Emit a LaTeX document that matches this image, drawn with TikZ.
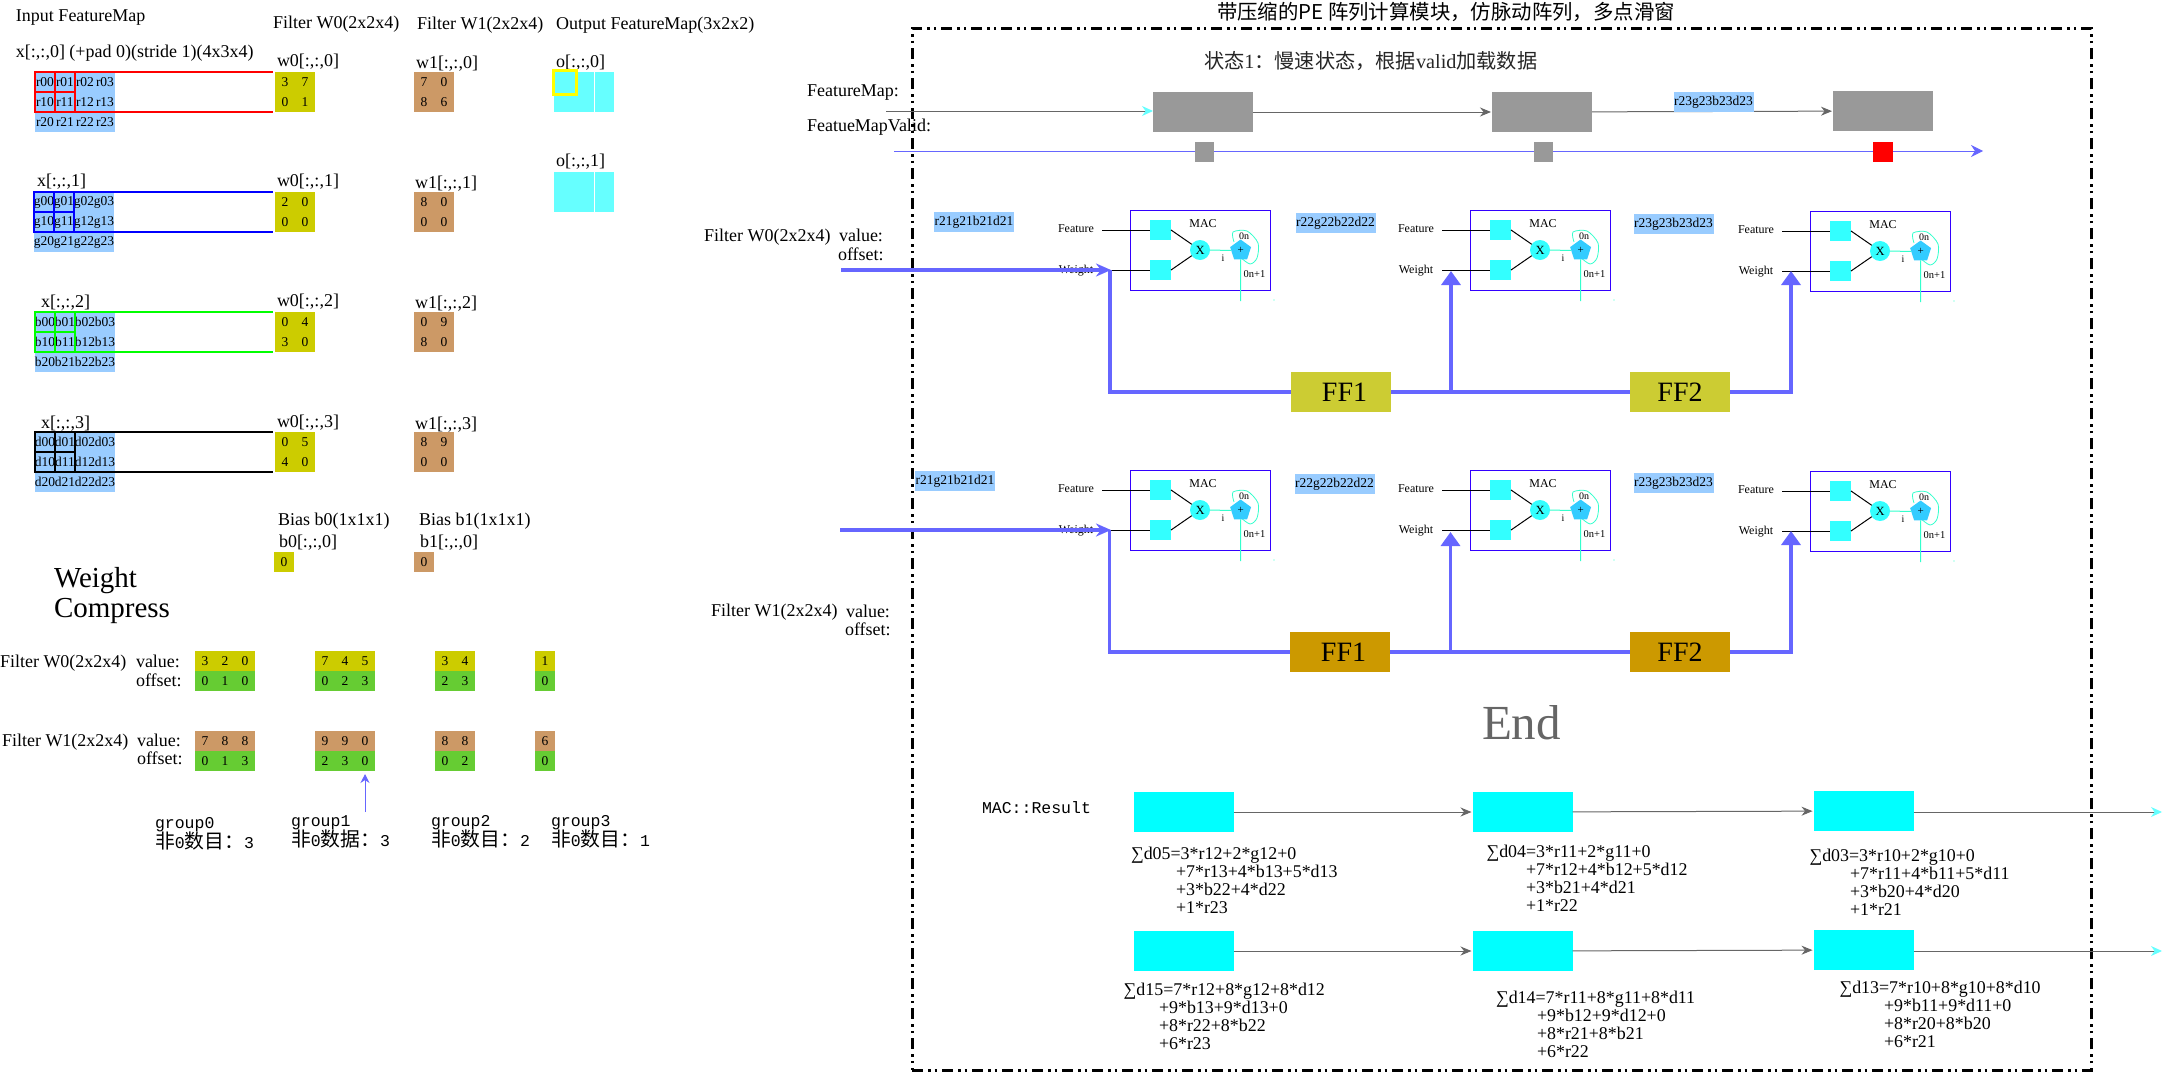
\documentclass[tikz,border=0pt]{standalone}
\usepackage{fontspec}
\setmainfont{Liberation Serif}
\setmonofont{Liberation Mono}
\newfontfamily\cjk{Noto Sans CJK SC}
\usetikzlibrary{arrows.meta}
\usetikzlibrary{shapes.geometric}
\definecolor{cellblue}{HTML}{99CCFF}
\definecolor{cellyellow}{HTML}{CCCC00}
\definecolor{cellbrown}{HTML}{CC9966}
\definecolor{cellgreen}{HTML}{66CC33}
\definecolor{outcyan}{HTML}{66FFFF}
\definecolor{rescyan}{HTML}{00FFFF}
\definecolor{macsqcyan}{HTML}{33FFFF}
\definecolor{macaddblue}{HTML}{33CCFF}
\definecolor{winyellow}{HTML}{FFFF00}
\definecolor{flowblue}{HTML}{6666FF}
\definecolor{macblue}{HTML}{3300FF}
\definecolor{macturq}{HTML}{33FFCC}
\definecolor{ffyellow}{HTML}{CCCC33}
\definecolor{fforange}{HTML}{CC9900}
\definecolor{boxgray}{HTML}{999999}
\definecolor{linegray}{HTML}{666666}
\newcommand{\px}[1]{\fontsize{#1}{#1}\selectfont}
\newcommand{\cjkm}[1]{{\cjk\px{19.8}#1}}
% one row of cells: name, style, x and y of first cell, entries
\newcommand{\cellrow}[5]{
  \foreach \v [count=\i] in {#5}
    \node[#2] (#1\i) at ({#3+20*(\i-1)},#4) {\v};
}
% sliding window over a feature map
\newcommand{\window}[3]{
  \foreach \c in {a1,a2,b1,b2}
    \draw[#2] (#1\c.north west) rectangle (#1\c.south east);
  \draw[#2,line width=2,shorten >=2pt] (#1a3.north west) -- (#3a1.north west);
  \draw[#2,line width=2,shorten >=2pt] (#1b3.south west) -- (#3b1.south west);
}
% one MAC unit: name, x and y of its top left corner
\newcommand{\macunit}[3]{
  \begin{scope}[shift={(#2,#3)}]
    \node[macbox] (#1) at (70,40) {};
    \node[macsq] (#1f) at (30.5,20) {};
    \node[macsq] (#1w) at (30.5,60) {};
    \node[macmul] (#1x) at (70,40) {X};
    \coordinate (#1fin) at (-28,20);
    \coordinate (#1win) at (-28,60);
    \coordinate (#1out) at (110.6,91);
    \draw[macwire] (#1fin) -- (#1f);
    \draw[macwire] (#1win) -- (#1w);
    \draw[macwire] (#1f.east) -- (#1x);
    \draw[macwire] (#1w.east) -- (#1x);
    \draw[macloop] plot[smooth] coordinates {(104,32) (103,22) (117,21) (128,33) (127,48) (120,54) (110,47)};
    \node[macadd] (#1a) at (110.6,40.5) {+};
    \draw[macloop,line width=1] (#1x) -- (#1a);
    \draw[macloop,line width=1] (#1a) -- (#1out);
    \fill[macturq] (144,90) circle (.6);
    \node[mactxt] (#1m) at (73,14) {MAC};
    \node[mactxt,font=\px{10}] (#1on) at (114,26) {0n};
    \node[mactxt,font=\px{10}] (#1i) at (93,48) {i};
    \node[mactxt,font=\px{10.5}] (#1n) at (124.5,64) {0n+1};
    \node[mactxt] (#1ft) at (-54,18.5) {Feature};
    \node[mactxt] (#1wt) at (-54,60.5) {Weight};
  \end{scope}
}
% formula under a result box
\newcommand{\sumblock}[8]{
  \node[sumtxt] (#1a) at (#2,#4) {∑#5};
  \node[sumtxt] (#1b) at (#3,#4+18) {#6};
  \node[sumtxt] (#1c) at (#3,#4+36) {#7};
  \node[sumtxt] (#1d) at (#3,#4+54) {#8};
}

\begin{document}
\begin{tikzpicture}[
  x=1pt, y=-1pt,
  every node/.style={inner sep=0pt, outer sep=0pt},
  lbl/.style={anchor=west, yshift=-1.5pt, font=\px{18}, text height=12pt, text depth=4pt},
  sumtxt/.style={anchor=west, yshift=-.7pt, font=\px{17.9}, text height=12pt, text depth=4pt},
  mono/.style={anchor=west, yshift=-2pt, font=\ttfamily\px{16.5}, text height=12pt, text depth=4pt},
  gridcell/.style={fill=cellblue, minimum width=20pt, minimum height=20pt, font=\px{13.5}},
  wzero/.style={gridcell, fill=cellyellow},
  wone/.style={gridcell, fill=cellbrown},
  woff/.style={gridcell, fill=cellgreen},
  outcell/.style={fill=outcyan, minimum height=40pt},
  winred/.style={draw=red, line width=1.5},
  winblue/.style={draw=blue, line width=1.5},
  wingreen/.style={draw=green, line width=1.5},
  winblack/.style={draw=black, line width=1.5},
  tagcell/.style={fill=cellblue, minimum width=80pt, minimum height=20pt, font=\px{13.5}},
  grayblock/.style={fill=boxgray, minimum width=100pt, minimum height=40pt},
  tick/.style={fill=boxgray, minimum width=19pt, minimum height=20pt},
  resblock/.style={fill=rescyan, minimum width=100pt, minimum height=40pt},
  ffbox/.style={minimum width=100pt, minimum height=40pt, font=\px{28}},
  macbox/.style={draw=macblue, line width=1, minimum width=140pt, minimum height=80pt},
  macsq/.style={fill=macsqcyan, minimum width=21pt, minimum height=20pt},
  macmul/.style={circle, fill=macsqcyan, minimum size=20pt, font=\px{12.5}},
  macadd/.style={regular polygon, regular polygon sides=5, fill=macaddblue, minimum size=22pt, font=\px{11}},
  mactxt/.style={font=\px{12}},
  macwire/.style={draw=black, line width=1},
  macloop/.style={draw=macturq, line width=.8},
  flow/.style={draw=flowblue, line width=3.4},
  flowin/.style={flow, -{Stealth[length=15pt,width=13pt]}},
  flowup/.style={flow, -{Triangle[length=14pt,width=19pt]}},
  gline/.style={draw=linegray, line width=1, -{Stealth[length=11pt,width=9pt]}, shorten >=1pt},
  gcyan/.style={draw=linegray, line width=1, -{Stealth[length=11pt,width=10pt,color=outcyan]}},
  pemodule/.style={draw=black, line width=3, dash pattern=on 11pt off 5pt on 2.5pt off 4pt on 2.5pt off 5pt, minimum width=1179pt, minimum height=1042pt}
]
\useasboundingbox (0,0) rectangle (2163,1073);

% left part, feature maps and filters
\node[lbl] (inmap) at (16,16) {Input FeatureMap};
\node[lbl] (filt0) at (273,23) {Filter W0(2x2x4)};
\node[lbl] (filt1) at (417,24) {Filter W1(2x2x4)};
\node[lbl] (outmap) at (556,24) {Output FeatureMap(3x2x2)};

\node[lbl] (xa) at (16,52) {x[:,:,0] (+pad 0)(stride 1)(4x3x4)};
\node[lbl] (xb) at (37,181) {x[:,:,1]};
\node[lbl] (xc) at (41,302) {x[:,:,2]};
\node[lbl] (xd) at (41,423) {x[:,:,3]};
\node[lbl] (wza) at (277,61) {w0[:,:,0]};
\node[lbl] (wzb) at (277,181) {w0[:,:,1]};
\node[lbl] (wzc) at (277,301) {w0[:,:,2]};
\node[lbl] (wzd) at (277,422) {w0[:,:,3]};
\node[lbl] (woa) at (416,63) {w1[:,:,0]};
\node[lbl] (wob) at (415,183) {w1[:,:,1]};
\node[lbl] (woc) at (415,303) {w1[:,:,2]};
\node[lbl] (wod) at (415,424) {w1[:,:,3]};
\node[lbl] (oa) at (556,62) {o[:,:,0]};
\node[lbl] (ob) at (556,161) {o[:,:,1]};

\cellrow{ra}{gridcell}{45}{82}{r00,r01,r02,r03}
\cellrow{rb}{gridcell}{45}{102}{r10,r11,r12,r13}
\cellrow{rc}{gridcell}{45}{122}{r20,r21,r22,r23}
\cellrow{ga}{gridcell}{44}{202}{g00,g01,g02,g03}
\cellrow{gb}{gridcell}{44}{222}{g10,g11,g12,g13}
\cellrow{gc}{gridcell}{44}{242}{g20,g21,g22,g23}
\cellrow{ba}{gridcell}{45}{322}{b00,b01,b02,b03}
\cellrow{bb}{gridcell}{45}{342}{b10,b11,b12,b13}
\cellrow{bc}{gridcell}{45}{362}{b20,b21,b22,b23}
\cellrow{da}{gridcell}{45}{442}{d00,d01,d02,d03}
\cellrow{db}{gridcell}{45}{462}{d10,d11,d12,d13}
\cellrow{dc}{gridcell}{45}{482}{d20,d21,d22,d23}

\cellrow{kza}{wzero}{285}{82}{3,7}
\cellrow{kzb}{wzero}{285}{102}{0,1}
\cellrow{kya}{wzero}{285}{202}{2,0}
\cellrow{kyb}{wzero}{285}{222}{0,0}
\cellrow{kxa}{wzero}{285}{322}{0,4}
\cellrow{kxb}{wzero}{285}{342}{3,0}
\cellrow{kwa}{wzero}{285}{442}{0,5}
\cellrow{kwb}{wzero}{285}{462}{4,0}
\cellrow{joa}{wone}{424}{82}{7,0}
\cellrow{job}{wone}{424}{102}{8,6}
\cellrow{jpa}{wone}{424}{202}{8,0}
\cellrow{jpb}{wone}{424}{222}{0,0}
\cellrow{jqa}{wone}{424}{322}{0,9}
\cellrow{jqb}{wone}{424}{342}{8,0}
\cellrow{jra}{wone}{424}{442}{8,9}
\cellrow{jrb}{wone}{424}{462}{0,0}

\window{r}{winred}{kz}
\window{g}{winblue}{ky}
\window{b}{wingreen}{kx}
\window{d}{winblack}{kw}

\node[outcell,minimum width=40pt] (oaa) at (574,92) {};
\node[outcell,minimum width=19pt] (oab) at (604.5,92) {};
\node[outcell,minimum width=40pt] (oba) at (574,192) {};
\node[outcell,minimum width=19pt] (obb) at (604.5,192) {};
\node[draw=winyellow,line width=3,minimum width=23pt,minimum height=23pt] (oawin) at (565,82.5) {};

% bias and compressed weights
\node[lbl] (bz) at (278,520) {Bias b0(1x1x1)};
\node[lbl] (bo) at (419,520) {Bias b1(1x1x1)};
\node[lbl] (bzt) at (279,542) {b0[:,:,0]};
\node[lbl] (bot) at (420,542) {b1[:,:,0]};
\cellrow{bzv}{wzero}{284}{562}{0}
\cellrow{bov}{wone}{424}{562}{0}
\node[anchor=west,font=\px{29}] (wcomp) at (54,581) {Weight};
\node[anchor=west,font=\px{29}] (wcompb) at (54,611) {Compress};

\node[lbl] (czf) at (0,662) {Filter W0(2x2x4)};
\node[lbl] (czv) at (136,662) {value:};
\node[lbl] (czo) at (136,681) {offset:};
\node[lbl] (cof) at (2,741) {Filter W1(2x2x4)};
\node[lbl] (cov) at (137,741) {value:};
\node[lbl] (coo) at (137,759) {offset:};

\cellrow{zva}{wzero}{205}{661}{3,2,0}
\cellrow{zoa}{woff}{205}{681}{0,1,0}
\cellrow{zvb}{wzero}{325}{661}{7,4,5}
\cellrow{zob}{woff}{325}{681}{0,2,3}
\cellrow{zvc}{wzero}{445}{661}{3,4}
\cellrow{zoc}{woff}{445}{681}{2,3}
\cellrow{zvd}{wzero}{545}{661}{1}
\cellrow{zod}{woff}{545}{681}{0}
\cellrow{ova}{wone}{205}{741}{7,8,8}
\cellrow{ooa}{woff}{205}{761}{0,1,3}
\cellrow{ovb}{wone}{325}{741}{9,9,0}
\cellrow{oob}{woff}{325}{761}{2,3,0}
\cellrow{ovc}{wone}{445}{741}{8,8}
\cellrow{ooc}{woff}{445}{761}{0,2}
\cellrow{ovd}{wone}{545}{741}{6}
\cellrow{ood}{woff}{545}{761}{0}

\coordinate (grpfoot) at (365,812);
\draw[draw=flowblue,line width=1,-{Stealth[length=9pt,width=9pt]},shorten >=3pt] (grpfoot) -- (oob3.south);
\node[mono] (grpa) at (155,822) {group0};
\node[mono] (grpan) at (155,842) {\cjkm{非}0\cjkm{数目：}3};
\node[mono] (grpb) at (291,820) {group1};
\node[mono] (grpbn) at (291,840) {\cjkm{非}0\cjkm{数据：}3};
\node[mono] (grpc) at (431,820) {group2};
\node[mono] (grpcn) at (431,840) {\cjkm{非}0\cjkm{数目：}2};
\node[mono] (grpd) at (551,820) {group3};
\node[mono] (grpdn) at (551,840) {\cjkm{非}0\cjkm{数目：}1};

% right part, PE array
\node[pemodule] (pe) at (1501.5,549.25) {};
\node[anchor=west,font=\cjk\px{20.4}] (petitle) at (1217,12) {带压缩的PE 阵列计算模块，仿脉动阵列，多点滑窗};
\node[anchor=west,font=\px{20.2},text=black!85] (pestate) at (1204,61) {{\cjk 状态}1{\cjk ：慢速状态，根据}valid{\cjk 加载数据}};

\node[lbl] (fmtxt) at (807,91) {FeatureMap:};
\node[lbl] (fvtxt) at (807,126) {FeatueMapValid:};
\node[grayblock] (fma) at (1203,112) {};
\node[grayblock] (fmb) at (1542,112) {};
\node[grayblock] (fmc) at (1883,111) {};
\coordinate (fmin) at (886,111);
\coordinate (fvin) at (894,151);
\coordinate (fvend) at (1983,151);
\draw[gcyan] (fmin) -- (fma.west |- fmin);
\draw[gline] (fma) -- (fmb);
\draw[gline] (fmb) -- (fmc);
\node[tagcell] (tagtop) at (1713.5,102) {r23g23b23d23};
\draw[draw=flowblue,line width=1,-{Stealth[length=12pt,width=12pt]}] (fvin) -- (fvend);
\node[tick] (fva) at (1204,151.5) {};
\node[tick] (fvb) at (1543,152) {};
\node[tick,fill=red,minimum width=20pt] (fvc) at (1883,152) {};

\node[lbl] (rwz) at (704,236) {Filter W0(2x2x4)};
\node[lbl] (rwzv) at (839,236) {value:};
\node[lbl] (rwzo) at (838,255) {offset:};
\node[lbl] (rwo) at (711,611) {Filter W1(2x2x4)};
\node[lbl] (rwov) at (846,612) {value:};
\node[lbl] (rwoo) at (845,630) {offset:};

\macunit{maa}{1130}{210}
\macunit{mab}{1470}{210}
\macunit{mac}{1810}{211}
\macunit{mba}{1130}{470}
\macunit{mbb}{1470}{470}
\macunit{mbc}{1810}{471}

\node[tagcell] (taga) at (974,222) {r21g21b21d21};
\node[tagcell] (tagb) at (1335.5,223) {r22g22b22d22};
\node[tagcell] (tagc) at (1673.5,224) {r23g23b23d23};
\node[tagcell] (tagd) at (955,481) {r21g21b21d21};
\node[tagcell] (tage) at (1334.5,484) {r22g22b22d22};
\node[tagcell] (tagf) at (1673.5,483) {r23g23b23d23};

\node[ffbox,fill=ffyellow] (ffa) at (1341,392) {\hspace*{7pt}FF1};
\node[ffbox,fill=ffyellow] (ffb) at (1680,392) {FF2};
\node[ffbox,fill=fforange] (ffc) at (1340,652) {\hspace*{7pt}FF1};
\node[ffbox,fill=fforange] (ffd) at (1680,652) {FF2};

\coordinate (flowa) at (841,270);
\coordinate (flowat) at (1111,270);
\coordinate (flowb) at (1110,270);
\coordinate (flowj) at (1451,392);
\coordinate (flowjt) at (1451,271);
\coordinate (flowe) at (1791,271);
\draw[flowin] (flowa) -- (flowat);
\draw[flow] (ffa.west) -| (flowb);
\draw[flow] (ffa.east) -- (ffb.west);
\draw[flowup] (flowj) -- (flowjt);
\draw[flowup] (ffb.east) -| (flowe);

\coordinate (flowc) at (840,530);
\coordinate (flowct) at (1111,530);
\coordinate (flowd) at (1109.5,530);
\coordinate (flowk) at (1450.5,652);
\coordinate (flowkt) at (1450.5,532);
\coordinate (flowf) at (1791,531);
\draw[flowin] (flowc) -- (flowct);
\draw[flow] (ffc.west) -| (flowd);
\draw[flow] (ffc.east) -- (ffd.west);
\draw[flowup] (flowk) -- (flowkt);
\draw[flowup] (ffd.east) -| (flowf);

\node[anchor=west,font=\px{49},text=linegray] (endtxt) at (1482,723) {End};

% results
\node[mono] (mactxt) at (982,807) {MAC::Result};
\node[resblock] (ra) at (1183.5,812) {};
\node[resblock] (rb) at (1522.5,812) {};
\node[resblock] (rc) at (1863.5,811) {};
\node[resblock] (rd) at (1183.5,951) {};
\node[resblock] (re) at (1522.5,951) {};
\node[resblock] (rf) at (1863.5,950) {};
\coordinate (rco) at (2162,812);
\coordinate (rfo) at (2162,951);
\draw[gline] (ra) -- (rb);
\draw[gline] (rb) -- (rc);
\draw[gcyan] (rc.east |- rco) -- (rco);
\draw[gline] (rd) -- (re);
\draw[gline] (re) -- (rf);
\draw[gcyan] (rf.east |- rfo) -- (rfo);

\sumblock{sa}{1131}{1176}{855}{d05=3*r12+2*g12+0}{+7*r13+4*b13+5*d13}{+3*b22+4*d22}{+1*r23}
\sumblock{sb}{1486.5}{1526}{853}{d04=3*r11+2*g11+0}{+7*r12+4*b12+5*d12}{+3*b21+4*d21}{+1*r22}
\sumblock{sc}{1809.5}{1850}{857}{d03=3*r10+2*g10+0}{+7*r11+4*b11+5*d11}{+3*b20+4*d20}{+1*r21}
\sumblock{sd}{1123.7}{1159}{991}{d15=7*r12+8*g12+8*d12}{+9*b13+9*d13+0}{+8*r22+8*b22}{+6*r23}
\sumblock{se}{1496}{1537}{999}{d14=7*r11+8*g11+8*d11}{+9*b12+9*d12+0}{+8*r21+8*b21}{+6*r22}
\sumblock{sf}{1839.5}{1884}{989}{d13=7*r10+8*g10+8*d10}{+9*b11+9*d11+0}{+8*r20+8*b20}{+6*r21}
\end{tikzpicture}
\end{document}
